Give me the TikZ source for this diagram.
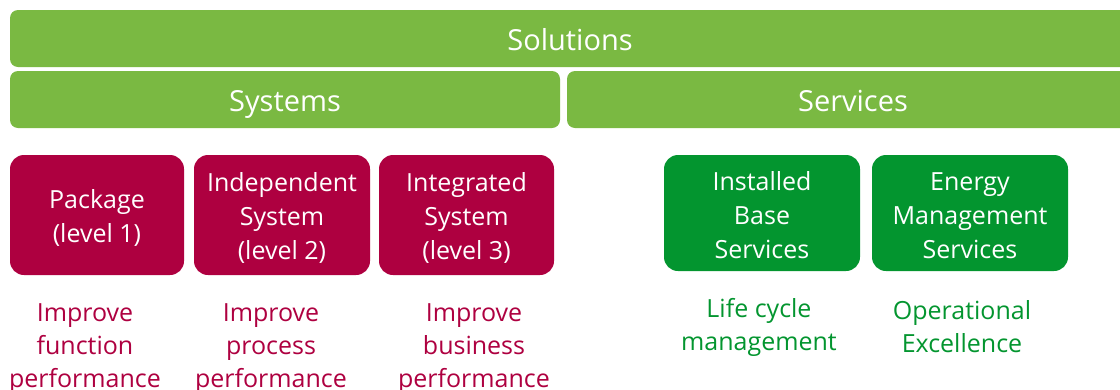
\documentclass[tikz,border=0pt]{standalone}
\usepackage{fontspec}
\setmainfont{Open Sans}
\definecolor{lgreen}{HTML}{7AB942}
\definecolor{crim}{HTML}{AE0040}
\definecolor{dgreen}{HTML}{03952F}
\tikzset{
  bar/.style={fill=lgreen, rounded corners=8pt, text=white, inner sep=0pt,
    text height=25pt, text depth=1pt,
    font=\fontsize{29}{34}\selectfont},
  sysbox/.style={fill=crim, rounded corners=14pt, inner sep=0pt},
  svcbox/.style={sysbox, fill=dgreen},
  boxtext/.style={text=white, align=center, inner sep=0pt, font=\fontsize{25}{34}\selectfont},
  syscap/.style={text=crim, inner sep=0pt, align=center, font=\fontsize{25}{33}\selectfont},
  svccap/.style={syscap, text=dgreen}
}
\begin{document}
\begin{tikzpicture}[x=1pt,y=-1pt]
\useasboundingbox (0,0) rectangle (1120,389);
\node[bar, minimum width=1120pt, minimum height=57pt] (sol) at (570,38.5) {Solutions};
\node[bar, minimum width=550pt, minimum height=57pt] (sys) at (285,99.5) {Systems};
\node[bar, minimum width=572pt, minimum height=57pt] (svc) at (853,99.5) {Services};

\node[sysbox, minimum width=174pt, minimum height=120pt] (pkg) at (97,215) {};
\node[boxtext] (pkgt) at (97,218) {Package\\(level 1)};
\node[sysbox, minimum width=176pt, minimum height=120pt] (ind) at (282,215) {};
\node[boxtext] (indt) at (282,218) {Independent\\System\\(level 2)};
\node[sysbox, minimum width=175pt, minimum height=120pt] (int) at (466.5,215) {};
\node[boxtext] (intt) at (466.5,218) {Integrated\\System\\(level 3)};

\node[svcbox, minimum width=196pt, minimum height=116pt] (ibs) at (762,213) {};
\node[boxtext] (ibst) at (762,215.5) {Installed\\Base\\Services};
\node[svcbox, minimum width=196pt, minimum height=116pt] (ems) at (970,213) {};
\node[boxtext] (emst) at (970,215.5) {Energy\\Management\\Services};

\node[syscap] (c1) at (85,349) {Improve\\function\\performance};
\node[syscap] (c2) at (271,349) {Improve\\process\\performance};
\node[syscap] (c3) at (474,349) {Improve\\business\\performance};
\node[svccap] (c4) at (759,327) {Life cycle\\management};
\node[svccap] (c5) at (962,327) {Operational\\Excellence};
\end{tikzpicture}
\end{document}
